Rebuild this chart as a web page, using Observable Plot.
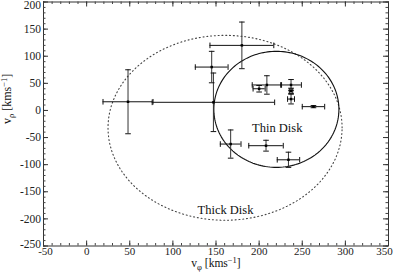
<!DOCTYPE html>
<html><head><meta charset="utf-8">
<script src="https://cdn.jsdelivr.net/npm/d3@7"></script>
<script src="https://cdn.jsdelivr.net/npm/@observablehq/plot@0.6"></script>
<style>
body{margin:0;background:#fff;}
svg{display:block}
svg, svg text { font-family: "Liberation Serif", "DejaVu Serif", serif !important; }
</style>
</head><body><div id="chart"></div>
<script>
// Star velocities (km/s) with 1-sigma errors
const vPhi   = [48, 147, 145, 180, 200, 209, 237, 237, 237, 263, 167, 208, 234];
const vRho   = [16,  15,  80, 120,  40,  47,  47,  36,  21,   7, -62, -65, -91];
const errPhi = [29,  71,  19,  37,   7,  17,  12,   2,   4,  13,  12,  20,  13];
const errRho = [59,  54,  29,  43,   6,  17,  10,   5,   9,   2,  26,  10,  14];

// Velocity ellipses: [centre vPhi, centre vRho, semi-axis vPhi, semi-axis vRho]
const thinDisk  = [220,   2,  72.5, 107];
const thickDisk = [160.5, -32, 135.7, 170.5];

const regionNames = ["Thin Disk", "Thick Disk"];
const regionPhi   = [221, 161];
const regionRho   = [-32, -183];

const xTickLabels = [-50, 0, 50, 100, 150, 200, 250, 300, 350];
const yTickLabels = [-250, -200, -150, -100, -50, 0, 50, 100, 150, 200];
const xMinorTicks = d3.range(-50, 351, 10);
const yMinorTicks = d3.range(-250, 201, 10);

const W = 399, H = 275;
const mL = 43, mR = 11, mT = 1.5, mB = 29.5;
const fw = W - mL - mR, fh = H - mT - mB;
const FONT = "Liberation Serif";

const pts = vPhi.map((x, i) => ({x, y: vRho[i], ex: errPhi[i], ey: errRho[i]}));
const capsH = pts.flatMap(d => [{x: d.x - d.ex, y: d.y}, {x: d.x + d.ex, y: d.y}]);
const capsV = pts.flatMap(d => [{x: d.x, y: d.y - d.ey}, {x: d.x, y: d.y + d.ey}]);

function ellipse([cx, cy, rx, ry]) {
  return d3.range(0, 360, 2).map(a => {
    const t = a * Math.PI / 180;
    return {x: cx + rx * Math.cos(t), y: cy + ry * Math.sin(t)};
  });
}

const vbar = {draw(ctx, size) { const h = Math.sqrt(size / Math.PI); ctx.moveTo(0, -h); ctx.lineTo(0, h); }};
const hbar = {draw(ctx, size) { const h = Math.sqrt(size / Math.PI); ctx.moveTo(-h, 0); ctx.lineTo(h, 0); }};

const labels = regionNames.map((t, i) => ({t, x: regionPhi[i], y: regionRho[i]}));
const fmt = d => String(d);
const axisStyle = {tickSize: 0, fontSize: 11.5, fill: "#222", fontFamily: FONT};
const xAxisStyle = {...axisStyle, fontSize: 11, anchor: "bottom", tickPadding: 1, tickFormat: fmt, label: null};
const yAxisStyle = {...axisStyle, anchor: "left", tickPadding: 2.5, tickFormat: fmt, label: null};

const plot = Plot.plot({
  width: W, height: H,
  marginLeft: mL, marginRight: mR, marginTop: mT, marginBottom: mB,
  style: {fontFamily: FONT, background: "#fff", color: "#000"},
  x: {domain: [-50, 350]},
  y: {domain: [-250, 200]},
  marks: [
    // ellipses
    Plot.line(ellipse(thickDisk), {x: "x", y: "y", curve: "linear-closed", stroke: "#444", strokeWidth: 1.1, strokeDasharray: "1 2.8"}),
    Plot.line(ellipse(thinDisk), {x: "x", y: "y", curve: "linear-closed", stroke: "#111", strokeWidth: 1.1}),
    // error bars
    Plot.ruleY(pts, {y: "y", x1: d => d.x - d.ex, x2: d => d.x + d.ex, stroke: "#111", strokeWidth: 1}),
    Plot.ruleX(pts, {x: "x", y1: d => d.y - d.ey, y2: d => d.y + d.ey, stroke: "#333", strokeWidth: 1}),
    Plot.dot(capsH, {x: "x", y: "y", symbol: vbar, r: 2.8, fill: "none", stroke: "#111", strokeWidth: 1}),
    Plot.dot(capsV, {x: "x", y: "y", symbol: hbar, r: 2.8, fill: "none", stroke: "#111", strokeWidth: 1}),
    Plot.dot(pts, {x: "x", y: "y", symbol: "square", r: 1.4, fill: "#000"}),
    // region labels
    Plot.text(labels, {x: "x", y: "y", text: "t", fontSize: 12.5, fill: "#111", fontFamily: FONT}),
    // frame and inward ticks
    Plot.frame({stroke: "#333", strokeWidth: 1}),
    Plot.tickX(xMinorTicks, {x: d => d, insetTop: fh - 2.5, stroke: "#444"}),
    Plot.tickX(xMinorTicks, {x: d => d, insetBottom: fh - 2.5, stroke: "#444"}),
    Plot.tickX(xTickLabels, {x: d => d, insetTop: fh - 5, stroke: "#333"}),
    Plot.tickX(xTickLabels, {x: d => d, insetBottom: fh - 5, stroke: "#333"}),
    Plot.tickY(yMinorTicks, {y: d => d, insetRight: fw - 2.5, stroke: "#444"}),
    Plot.tickY(yMinorTicks, {y: d => d, insetLeft: fw - 2.5, stroke: "#444"}),
    Plot.tickY(yTickLabels, {y: d => d, insetRight: fw - 5, stroke: "#333"}),
    Plot.tickY(yTickLabels, {y: d => d, insetLeft: fw - 5, stroke: "#333"}),
    // tick labels
    Plot.axisX(xTickLabels.slice(1, -1), xAxisStyle),
    Plot.axisX([xTickLabels[0]], {...xAxisStyle, dx: 2}),
    Plot.axisX([xTickLabels[xTickLabels.length - 1]], {...xAxisStyle, dx: -4}),
    Plot.axisY(yTickLabels.slice(1, -1), yAxisStyle),
    Plot.axisY([yTickLabels[0]], {...yAxisStyle, dy: -2}),
    Plot.axisY([yTickLabels[yTickLabels.length - 1]], {...yAxisStyle, dy: 3.5}),
    // axis titles (rich text filled in below)
    Plot.text(["__XLABEL__"], {frameAnchor: "bottom", dy: 21, fontSize: 11.5, fill: "#111", fontFamily: FONT}),
    Plot.text(["__YLABEL__"], {frameAnchor: "left", dx: -36, rotate: -90, fontSize: 12, fill: "#111", fontFamily: FONT})
  ]
});

function richLabel(el, sym, fsMain) {
  el.textContent = "";
  const ns = "http://www.w3.org/2000/svg";
  const parts = [
    ["v", null, 0],
    [sym, 8.5, 2.5],
    [" [kms", fsMain, -2.5],
    ["\u22121", 8.5, -4],
    ["]", fsMain, 4]
  ];
  for (const [t, fs, dy] of parts) {
    const ts = document.createElementNS(ns, "tspan");
    ts.textContent = t;
    if (fs) ts.setAttribute("font-size", fs);
    if (dy) ts.setAttribute("dy", dy);
    el.appendChild(ts);
  }
}
plot.querySelectorAll("text").forEach(el => {
  if (el.textContent === "__XLABEL__") richLabel(el, "\u03c6", 11.5);
  else if (el.textContent === "__YLABEL__") richLabel(el, "\u03c1", 12);
});

document.getElementById("chart").appendChild(plot);
</script>
</body></html>
